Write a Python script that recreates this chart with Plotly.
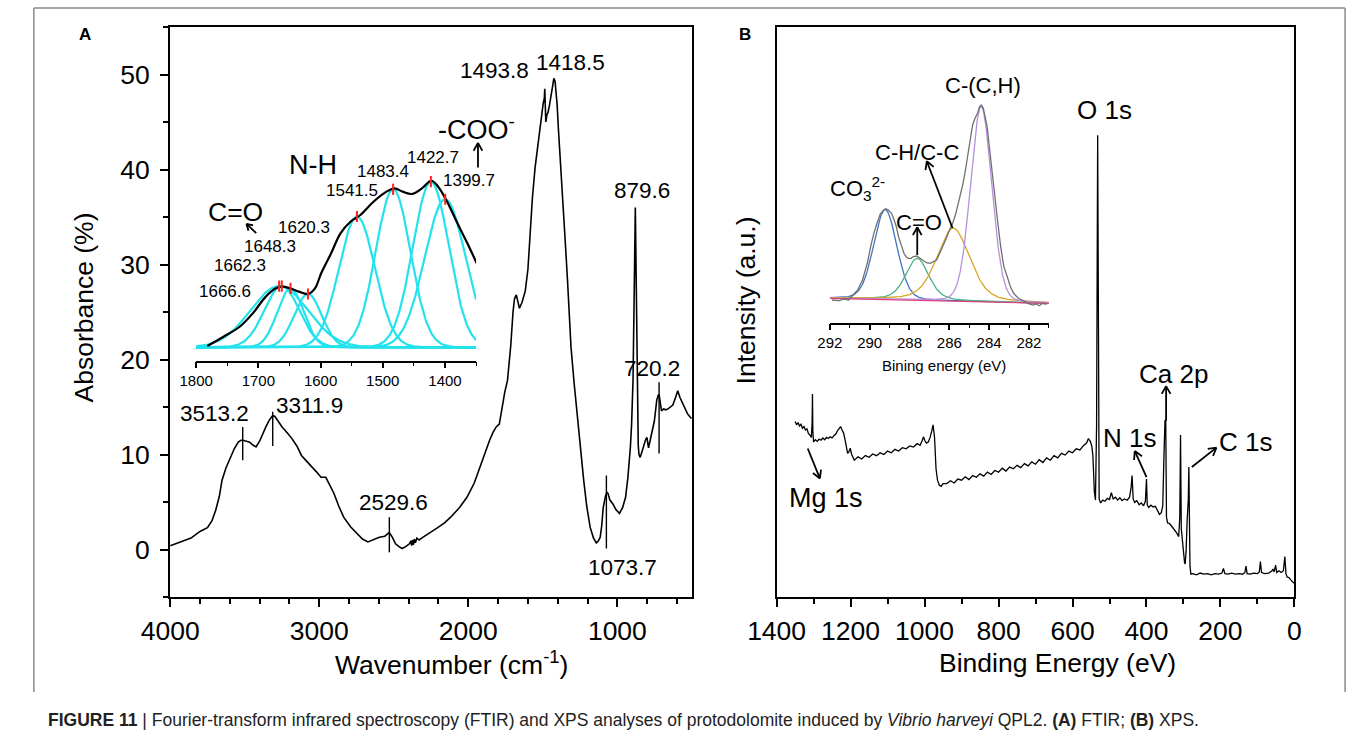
import math
import numpy as np
import plotly.graph_objects as go

W, H = 1355, 744
FONT = "Liberation Sans, Arial, sans-serif"

# ---------------- Panel A : FTIR spectrum ----------------
ftir_wn = [4000, 3930, 3860, 3800, 3750, 3720, 3695, 3670, 3652, 3625, 3597, 3570, 3543, 3525, 3510,
           3490, 3467, 3445, 3424, 3400, 3380, 3358, 3336, 3312, 3297, 3275, 3249, 3215, 3184, 3150,
           3119, 3085, 3054, 3020, 2988, 2956, 2930, 2901, 2870, 2836, 2790, 2749, 2710, 2673, 2640,
           2597, 2560, 2530, 2510, 2488, 2465, 2444, 2420, 2395, 2385, 2380, 2375, 2368, 2362, 2355,
           2345, 2330, 2303, 2250, 2205, 2160, 2118, 2060, 2009, 1960, 1922, 1885, 1857, 1835, 1813,
           1792, 1770, 1755, 1737, 1715, 1700, 1690, 1678, 1665, 1657, 1640, 1618, 1600, 1585, 1570,
           1552, 1535, 1520, 1508, 1498, 1490, 1487, 1483, 1480, 1472, 1465, 1455, 1443, 1435, 1426,
           1418, 1411, 1404, 1396, 1382, 1367, 1350, 1335, 1311, 1290, 1271, 1250, 1226, 1205, 1182,
           1160, 1141, 1128, 1115, 1105, 1095, 1080, 1070, 1063, 1050, 1030, 1010, 986, 965, 945,
           930, 913, 905, 895, 888, 882, 879.6, 876, 870, 866, 860, 855, 847, 835, 823,
           812, 802, 797, 791, 780, 769, 752, 736, 725, 719, 712, 704, 690, 675, 660,
           645, 628, 612, 595, 580, 562, 545, 530, 515, 503]
ftir_abs = [0.4, 0.8, 1.2, 1.9, 2.3, 3.0, 4.1, 5.6, 7.3, 8.6, 9.7, 10.6, 11.3, 11.5, 11.5,
            11.4, 11.3, 11.0, 10.8, 11.4, 12.2, 12.9, 13.6, 14.1, 14.0, 13.5, 12.9, 12.3, 11.7, 10.9,
            9.9, 9.3, 8.8, 8.2, 7.6, 7.6, 6.8, 5.9, 4.6, 3.4, 2.4, 1.7, 1.1, 0.8, 1.0,
            1.3, 1.4, 1.8, 1.3, 0.6, 0.3, 0.1, 0.3, 0.6, 0.9, 0.4, 1.0, 0.5, 1.1, 0.7,
            1.2, 1.0, 1.3, 1.8, 2.3, 2.8, 3.4, 4.4, 5.5, 7.0, 8.7, 10.2, 11.5, 12.3, 12.9,
            13.2, 15.3, 16.6, 17.8, 21.5, 25.0, 26.4, 26.8, 25.8, 25.4, 26.0, 27.2, 29.5, 33.3, 37.0,
            40.2, 42.5, 44.1, 45.5, 46.9, 47.5, 48.5, 46.5, 45.0, 45.8, 46.0, 46.8, 48.0, 48.8, 49.6,
            49.3, 48.3, 46.8, 44.4, 41.0, 37.5, 32.5, 28.5, 21.3, 17.5, 14.3, 10.5, 7.3, 4.5, 2.3,
            1.2, 0.7, 0.9, 1.3, 2.5, 4.4, 5.6, 6.0, 5.9, 5.2, 4.8, 4.2, 3.8, 4.4, 5.5,
            7.5, 10.7, 13.0, 17.8, 24.0, 33.0, 36.0, 30.0, 22.0, 15.0, 11.0, 10.0, 9.7, 10.3, 11.1,
            11.5, 11.8, 11.2, 10.7, 11.5, 12.2, 13.5, 15.7, 16.3, 16.2, 15.3, 14.6, 14.8, 14.7, 14.8,
            15.0, 15.2, 15.9, 16.7, 16.0, 15.4, 14.9, 14.3, 14.0, 13.8]

# labelled peaks with their short marker lines
ftir_mark_wn = [3513.2, 3311.9, 2529.6, 1073.7, 720.2]
ftir_mark_lo = [9.4, 10.9, -0.3, 0.1, 10.1]
ftir_mark_hi = [12.9, 14.5, 3.4, 7.8, 17.6]
ftir_label_text = ["3513.2", "3311.9", "2529.6", "1073.7", "720.2", "879.6", "1493.8", "1418.5"]
ftir_label_x = [3700, 3300, 2500, 965, 769, 834, 1826, 1317]
ftir_label_y = [14.3, 15.2, 4.9, -1.9, 19.05, 37.8, 50.4, 51.3]
ftir_label_anchor = ["center", "left", "center", "center", "center", "center", "center", "center"]

# ---------------- Inset A : amide region fit ----------------
inset_wn = [1782, 1756, 1730, 1709, 1688, 1672, 1662, 1649, 1635, 1620, 1609, 1599, 1583, 1568, 1552,
            1536, 1515, 1494, 1481, 1468, 1453, 1437, 1422, 1411, 1398, 1380, 1364, 1349]
inset_abs = [0.008, 0.064, 0.124, 0.205, 0.306, 0.356, 0.366, 0.356, 0.336, 0.322, 0.356, 0.447, 0.568, 0.688, 0.758,
             0.799, 0.879, 0.940, 0.960, 0.940, 0.926, 0.960, 1.006, 0.970, 0.890, 0.749, 0.628, 0.507]
fit_centers = [1666.6, 1662.3, 1648.3, 1620.3, 1541.5, 1483.4, 1422.7, 1399.7]
fit_heights = [0.37, 0.37, 0.356, 0.322, 0.79, 0.954, 1.0, 0.894]
fit_sigmas = [46, 28, 21, 22, 29, 28, 29, 33]
fit_labels = ["1666.6", "1662.3", "1648.3", "1620.3", "1541.5", "1483.4", "1422.7", "1399.7"]
fit_label_x = [1754, 1729, 1682, 1627, 1550, 1500, 1419, 1361]
fit_label_y = [0.334, 0.497, 0.606, 0.726, 0.95, 1.059, 1.149, 1.01]

# ---------------- Panel B : XPS survey ----------------
xps_be = [1350, 1346, 1342, 1338, 1334, 1330, 1326, 1322, 1318, 1314, 1310, 1306, 1304, 1303, 1302,
          1300, 1295, 1290, 1285, 1280, 1275, 1270, 1265, 1260, 1255, 1250, 1245, 1240, 1235, 1230,
          1227, 1223, 1219, 1215, 1211, 1208, 1205, 1201, 1197, 1193, 1190, 1180, 1170, 1160, 1150,
          1140, 1130, 1120, 1110, 1100, 1090, 1080, 1070, 1060, 1050, 1040, 1030, 1020, 1012, 1006,
          1003, 999, 995, 990, 985, 981, 977, 973, 969, 965, 960, 955, 950, 940, 930,
          920, 910, 900, 890, 880, 870, 860, 850, 840, 830, 820, 810, 800, 790, 780,
          770, 760, 750, 740, 730, 720, 710, 700, 690, 680, 670, 660, 650, 640, 630,
          620, 610, 600, 590, 580, 570, 562, 557, 552, 548, 545, 541, 538, 535, 532,
          530, 528, 524, 518, 512, 506, 500, 495, 490, 484, 478, 472, 466, 460, 452,
          446, 442, 439, 436, 432, 426, 420, 414, 408, 403, 400, 398, 394, 388, 382,
          376, 370, 365, 360, 356, 353, 350, 348, 346, 343, 338, 333, 328, 323, 318,
          313, 310, 308, 306, 303, 300, 297, 295.5, 293, 290, 287, 285.5, 284, 282.5, 280,
          275, 265, 255, 245, 235, 225, 215, 205, 196, 192, 188, 180, 170, 160, 150,
          140, 134, 131, 128, 120, 110, 100, 95, 92, 89, 80, 70, 62, 58, 55,
          51, 48, 42, 36, 30, 26, 23, 20, 15, 10, 5, 1]
xps_int = [30.8, 30.2, 30.6, 30.0, 30.3, 29.6, 29.9, 29.3, 29.5, 28.7, 28.4, 28.0, 30.5, 35.6, 29.0,
           27.2, 27.6, 27.3, 27.7, 27.5, 27.9, 27.6, 28.0, 27.8, 28.1, 27.9, 28.3, 28.6, 29.2, 29.7,
           29.9, 29.3, 28.8, 27.6, 26.0, 25.2, 25.4, 26.1, 25.0, 24.3, 24.0, 24.6, 24.2, 24.8, 24.5,
           25.1, 24.8, 25.3, 25.0, 25.6, 25.3, 25.9, 25.6, 26.2, 26.0, 26.5, 26.3, 26.9, 26.6, 27.5,
           28.1, 27.4, 27.0, 27.2, 28.0, 29.0, 30.2, 28.0, 22.5, 20.5, 19.6, 19.4, 19.9, 19.9, 20.4,
           20.0, 20.7, 20.5, 21.1, 20.6, 21.3, 21.0, 21.6, 21.2, 21.9, 21.5, 22.2, 21.9, 22.6, 22.1,
           22.8, 22.5, 23.1, 22.7, 23.4, 23.0, 23.7, 23.3, 24.1, 23.6, 24.4, 24.0, 24.8, 24.4, 25.2,
           24.9, 25.6, 25.3, 26.0, 25.8, 26.6, 27.0, 27.8, 27.3, 26.5, 24.9, 18.5, 17.0, 30.0, 81.0,
           30.0, 17.2, 16.5, 17.0, 16.8, 17.3, 17.1, 18.3, 17.2, 17.5, 17.0, 17.4, 16.9, 17.2, 17.0,
           17.5, 19.0, 21.3, 17.2, 16.6, 16.9, 16.2, 16.5, 16.0, 16.8, 20.7, 16.2, 15.7, 16.1, 15.8,
           15.9, 15.0, 14.5, 14.8, 16.0, 24.3, 31.0, 30.9, 14.0, 13.0, 12.9, 12.5, 12.1, 11.8, 11.2,
           10.6, 14.0, 28.4, 12.0, 10.0, 7.5, 6.0, 5.8, 8.0, 13.6, 17.0, 22.8, 12.0, 5.5, 4.0,
           4.1, 3.9, 4.2, 4.0, 4.1, 3.9, 4.1, 4.0, 4.2, 5.0, 4.1, 4.0, 4.2, 4.0, 4.1,
           4.0, 4.3, 5.4, 4.1, 4.0, 4.2, 4.1, 4.4, 6.2, 4.3, 4.1, 4.2, 4.5, 4.9, 4.4,
           5.6, 4.3, 4.6, 4.3, 4.6, 7.1, 4.1, 3.5, 3.4, 3.0, 2.6, 2.4]

# ---------------- Inset B : C 1s high resolution ----------------
c1s_be = [291.89, 291.52, 291.30, 291.05, 290.84, 290.60, 290.36, 290.12, 289.95, 289.79, 289.63, 289.47,
          289.30, 289.19, 289.06, 288.90, 288.77, 288.66, 288.55, 288.41, 288.28, 288.17, 288.06, 287.93,
          287.80, 287.64, 287.48, 287.31, 287.15, 286.96, 286.80, 286.64, 286.48, 286.32, 286.15, 285.99,
          285.83, 285.67, 285.54, 285.43, 285.31, 285.19, 285.06, 284.95, 284.83, 284.71, 284.58, 284.48,
          284.39, 284.29, 284.19, 284.10, 283.99, 283.87, 283.74, 283.58, 283.42, 283.26, 283.09, 282.93,
          282.77, 282.53, 282.29, 282.05, 281.80, 281.64, 281.48, 281.32, 281.11]
c1s_int = [0.033, 0.026, 0.043, 0.033, 0.083, 0.133, 0.233, 0.400, 0.566, 0.700, 0.800, 0.893,
           0.933, 0.946, 0.933, 0.900, 0.833, 0.766, 0.666, 0.566, 0.500, 0.466, 0.450, 0.450,
           0.466, 0.473, 0.450, 0.423, 0.406, 0.400, 0.413, 0.433, 0.500, 0.566, 0.650, 0.733,
           0.800, 0.900, 1.000, 1.100, 1.200, 1.333, 1.500, 1.666, 1.783, 1.850, 1.900, 1.966,
           1.983, 1.950, 1.866, 1.766, 1.566, 1.333, 1.100, 0.833, 0.566, 0.366, 0.266, 0.166,
           0.100, 0.050, 0.026, 0.000, -0.017, -0.007, -0.024, 0.000, -0.010]
comp_names = ["CO3", "C=O", "C-H/C-C", "C-(C,H)"]
comp_centers = [289.22, 287.61, 285.80, 284.40]
comp_heights = [0.90, 0.42, 0.73, 1.95]
comp_fwhm = [1.37, 1.37, 1.94, 1.25]
comp_lorentz = [0.15, 0.40, 0.35, 0.10]
comp_colors = ["#3f73c6", "#4cb483", "#d8a524", "#b690de"]
bg_be = [292, 281]
bg_int = [0.05, 0.0]

# ---------------- axis geometry (pixel domains and ranges) ----------------
AX = {
    "x":  dict(dom=(145, 681), rng=(4000, 500)),
    "y":  dict(dom=(597, 27), rng=(-5, 55)),
    "x2": dict(dom=(768, 1300), rng=(1400, 0)),
    "y2": dict(dom=(597, 27), rng=(0, 100)),
    "x3": dict(dom=(171.7, 459.3), rng=(1800, 1350)),
    "y3": dict(dom=(360.7, 140), rng=(-0.081, 1.252)),
    "x4": dict(dom=(822.7, 1047.7), rng=(292, 281)),
    "y4": dict(dom=(322.7, 60), rng=(-0.194, 2.433)),
}

def fx(px):
    return px / W

def fy(py):
    return 1 - py / H

def xdom(k):
    d = AX[k]["dom"]
    return [fx(d[0]), fx(d[1])]

def ydom(k):
    d = AX[k]["dom"]
    return [fy(d[0]), fy(d[1])]

def to_px(k, v):
    (d0, d1), (r0, r1) = AX[k]["dom"], AX[k]["rng"]
    return d0 + (v - r0) / (r1 - r0) * (d1 - d0)

fig = go.Figure()

# main FTIR
fig.add_trace(go.Scatter(x=ftir_wn, y=ftir_abs, mode="lines",
                         line=dict(color="black", width=1.6), xaxis="x", yaxis="y", hoverinfo="skip"))
for w, lo, hi in zip(ftir_mark_wn, ftir_mark_lo, ftir_mark_hi):
    fig.add_trace(go.Scatter(x=[w, w], y=[lo, hi], mode="lines", line=dict(color="black", width=1.4),
                             xaxis="x", yaxis="y", hoverinfo="skip"))

# inset A fitted components
grid_a = np.linspace(1800, 1350, 400)
for c, h, s in zip(fit_centers, fit_heights, fit_sigmas):
    fig.add_trace(go.Scatter(x=grid_a, y=h * np.exp(-(grid_a - c) ** 2 / (2 * s ** 2)), mode="lines",
                             line=dict(color="#22e2ec", width=2.2), xaxis="x3", yaxis="y3", hoverinfo="skip"))
fig.add_trace(go.Scatter(x=inset_wn, y=inset_abs, mode="lines", line=dict(color="black", width=2.2, shape="spline"),
                         xaxis="x3", yaxis="y3", hoverinfo="skip"))
fig.add_trace(go.Scatter(x=fit_centers, y=fit_heights, mode="markers",
                         marker=dict(symbol="line-ns", size=8, line=dict(color="#ff2020", width=2)),
                         xaxis="x3", yaxis="y3", hoverinfo="skip"))

# XPS survey
fig.add_trace(go.Scatter(x=xps_be, y=xps_int, mode="lines", line=dict(color="black", width=1.3),
                         xaxis="x2", yaxis="y2", hoverinfo="skip"))

# inset B components
grid_b = np.linspace(292, 281, 400)
base_b = np.interp(grid_b, bg_be[::-1], bg_int[::-1])
for c, h, f, eta, col in zip(comp_centers, comp_heights, comp_fwhm, comp_lorentz, comp_colors):
    u = (grid_b - c) / f
    prof = h * (eta / (1 + 4 * u ** 2) + (1 - eta) * np.exp(-4 * np.log(2) * u ** 2))
    fig.add_trace(go.Scatter(x=grid_b, y=base_b + prof, mode="lines", line=dict(color=col, width=1.3),
                             xaxis="x4", yaxis="y4", hoverinfo="skip"))
fig.add_trace(go.Scatter(x=bg_be, y=bg_int, mode="lines", line=dict(color="#e0407a", width=1.3),
                         xaxis="x4", yaxis="y4", hoverinfo="skip"))
fig.add_trace(go.Scatter(x=c1s_be, y=c1s_int, mode="lines", line=dict(color="#707070", width=1.3),
                         xaxis="x4", yaxis="y4", hoverinfo="skip"))

# ---------------- axes ----------------
main_tick = dict(ticks="outside", ticklen=8, tickwidth=2, tickcolor="black", showline=True, linewidth=2,
                 linecolor="black", mirror=True, showgrid=False, zeroline=False,
                 tickfont=dict(family=FONT, size=26.5, color="black"))
inset_tick = dict(ticks="outside", ticklen=6, tickwidth=1.5, tickcolor="black", showline=True, linewidth=1.5,
                  linecolor="black", showgrid=False, zeroline=False,
                  tickfont=dict(family=FONT, size=15, color="black"))
fig.update_layout(
    width=W, height=H, margin=dict(l=0, r=0, t=0, b=0), showlegend=False,
    paper_bgcolor="white", plot_bgcolor="rgba(0,0,0,0)",
    xaxis=dict(domain=xdom("x"), range=list(AX["x"]["rng"]), anchor="y", tick0=0, dtick=1000,
               minor=dict(dtick=200, ticks="outside", ticklen=5, tickwidth=1.5, tickcolor="black"),
               ticklabelstandoff=1, **main_tick),
    yaxis=dict(domain=ydom("y"), range=list(AX["y"]["rng"]), anchor="x", tick0=0, dtick=10,
               minor=dict(dtick=5, ticks="outside", ticklen=5, tickwidth=1.5, tickcolor="black"),
               ticklabelstandoff=5, **main_tick),
    xaxis2=dict(domain=xdom("x2"), range=list(AX["x2"]["rng"]), anchor="y2", tick0=0, dtick=200,
                minor=dict(dtick=100, ticks="outside", ticklen=5, tickwidth=1.5, tickcolor="black"),
                ticklabelstandoff=1, **main_tick),
    yaxis2=dict(domain=ydom("y2"), range=list(AX["y2"]["rng"]), anchor="x2", ticks="", showticklabels=False,
                showline=True, linewidth=2, linecolor="black", mirror=True, showgrid=False, zeroline=False),
    xaxis3=dict(domain=xdom("x3"), range=list(AX["x3"]["rng"]), anchor="y3", tick0=0, dtick=100,
                minor=dict(dtick=50, ticks="outside", ticklen=4, tickwidth=1.2, tickcolor="black"), **inset_tick),
    yaxis3=dict(domain=ydom("y3"), range=list(AX["y3"]["rng"]), anchor="x3", visible=False),
    xaxis4=dict(domain=xdom("x4"), range=list(AX["x4"]["rng"]), anchor="y4", tick0=0, dtick=2,
                minor=dict(dtick=1, ticks="outside", ticklen=4, tickwidth=1.2, tickcolor="black"), **inset_tick),
    yaxis4=dict(domain=ydom("y4"), range=list(AX["y4"]["rng"]), anchor="x4", visible=False),
)

ann = []
shapes = []

def text(x, y, s, size, xref="paper", yref="paper", xanchor="center", angle=0, bold=False, color="black"):
    ann.append(dict(x=x, y=y, xref=xref, yref=yref, text=("<b>%s</b>" % s) if bold else s, showarrow=False,
                    xanchor=xanchor, yanchor="middle", textangle=angle,
                    font=dict(family=FONT, size=size, color=color)))

def seg(x0, y0, x1, y1, width=1.8):
    shapes.append(dict(type="line", xref="paper", yref="paper", x0=fx(x0), y0=fy(y0), x1=fx(x1), y1=fy(y1),
                       line=dict(color="black", width=width)))

def arrow(xt, yt, xh, yh, xa, ya, head=9.0, half_angle=30):
    X0, Y0 = to_px(xa, xt), to_px(ya, yt)
    X1, Y1 = to_px(xa, xh), to_px(ya, yh)
    n = math.hypot(X1 - X0, Y1 - Y0)
    bx, by = (X0 - X1) / n, (Y0 - Y1) / n
    seg(X0, Y0, X1, Y1)
    for sgn in (1, -1):
        a = math.radians(sgn * half_angle)
        rx = bx * math.cos(a) - by * math.sin(a)
        ry = bx * math.sin(a) + by * math.cos(a)
        seg(X1, Y1, X1 + head * rx, Y1 + head * ry)

# panel letters, axis titles
text(fx(58), fy(35), "A", 17, bold=True)
text(fx(735.5), fy(35), "B", 17, bold=True)
text(fx(56), fy(308), "Absorbance (%)", 26.5, angle=-90)
text(fx(434), fy(663), "Wavenumber (cm<sup>-1</sup>)", 26.5)
text(fx(737), fy(300), "Intensity (a.u.)", 26.5, angle=-90)
text(fx(1057), fy(663), "Binding Energy (eV)", 26.5)

# panel A labels
for s, x, y, a in zip(ftir_label_text, ftir_label_x, ftir_label_y, ftir_label_anchor):
    text(x, y, s, 22.5, xref="x", yref="y", xanchor=a)
text(1944, 44.4, "-COO<sup>-</sup>", 27, xref="x", yref="y")
arrow(1935, 40.2, 1935, 42.8, "x", "y")

# inset A labels
for s, x, y in zip(fit_labels, fit_label_x, fit_label_y):
    text(x, y, s, 17, xref="x3", yref="y3")
text(1611.6, 1.10, "N-H", 27, xref="x3", yref="y3")
text(1736.8, 0.817, "C=O", 26.5, xref="x3", yref="y3")
arrow(1703.4, 0.689, 1719.1, 0.745, "x3", "y3", head=7)

# panel B labels
text(513, 85.4, "O 1s", 26, xref="x2", yref="y2")
text(326, 39.1, "Ca 2p", 26, xref="x2", yref="y2")
text(445, 27.9, "N 1s", 26, xref="x2", yref="y2")
text(132, 27.2, "C 1s", 26, xref="x2", yref="y2")
text(1266, 17.4, "Mg 1s", 27, xref="x2", yref="y2")
arrow(347, 30.9, 347, 37.0, "x2", "y2")
arrow(400, 21.05, 431.6, 25.6, "x2", "y2")
arrow(277.4, 22.8, 211, 26.2, "x2", "y2")
arrow(1315.8, 26.05, 1283, 20.8, "x2", "y2")

# inset B labels
text(284.29, 2.183, "C-(C,H)", 22, xref="x4", yref="y4")
text(287.63, 1.513, "C-H/C-C", 22, xref="x4", yref="y4")
text(287.53, 0.813, "C=O", 22, xref="x4", yref="y4")
text(290.63, 1.153, "CO<sub>3</sub><sup>2-</sup>", 22, xref="x4", yref="y4")
text(fx(940), fy(365), "Bining energy (eV)", 15)
arrow(285.84, 0.753, 287.13, 1.42, "x4", "y4")
arrow(287.61, 0.483, 287.61, 0.76, "x4", "y4")

# caption
ann.append(dict(x=fx(17), y=fy(720), xref="paper", yref="paper", xanchor="left", yanchor="middle", showarrow=False,
                text="<b>FIGURE 11</b> | Fourier-transform infrared spectroscopy (FTIR) and XPS analyses of protodolomite "
                     "induced by <i>Vibrio harveyi</i> QPL2. <b>(A)</b> FTIR; <b>(B)</b> XPS.",
                font=dict(family=FONT, size=17.5, color="#222222")))

# outer frame
frame = dict(color="#8a8a8a", width=1.5)
shapes += [
    dict(type="line", xref="paper", yref="paper", x0=fx(5), x1=fx(1352), y0=fy(8), y1=fy(8), line=frame),
    dict(type="line", xref="paper", yref="paper", x0=fx(5), x1=fx(5), y0=fy(8), y1=fy(692), line=frame),
    dict(type="line", xref="paper", yref="paper", x0=fx(1352), x1=fx(1352), y0=fy(8), y1=fy(692), line=frame),
]

fig.update_layout(annotations=ann, shapes=shapes)
fig.write_html("out.html")
